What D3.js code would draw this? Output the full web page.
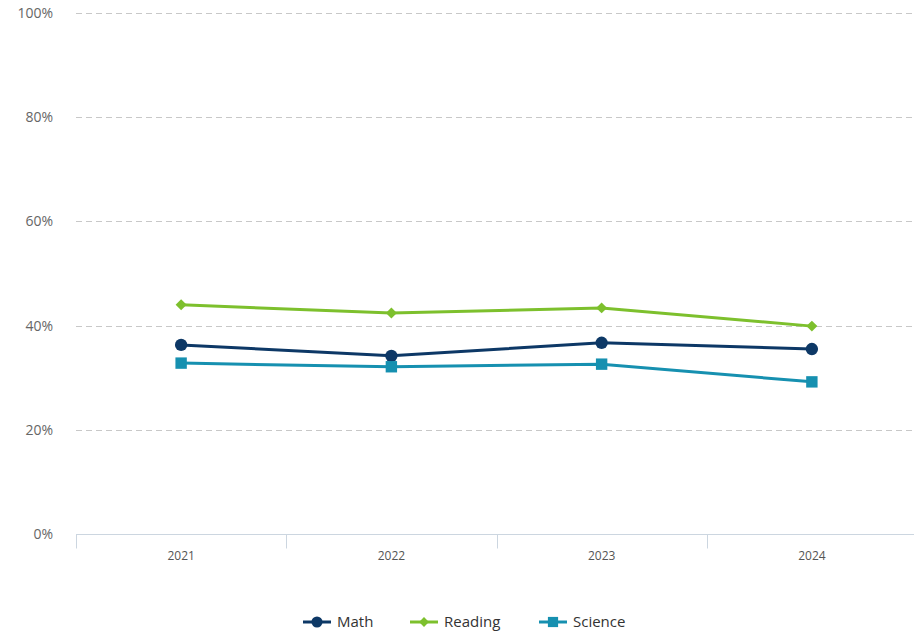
<!DOCTYPE html>
<html>
<head>
<meta charset="utf-8">
<script src="https://cdn.jsdelivr.net/npm/d3@7"></script>
<style>
  body { margin: 0; background: #fff; }
  svg { display: block; font-family: "Open Sans", "DejaVu Sans", sans-serif; }
</style>
</head>
<body>
<div id="chart"></div>
<script>
const years = ['2021', '2022', '2023', '2024']
const math = [36.3, 34.2, 36.7, 35.5]
const reading = [44.0, 42.4, 43.4, 39.9]
const science = [32.8, 32.1, 32.6, 29.2]
const yTicks = [0, 20, 40, 60, 80, 100]

const series = [
  { name: 'Math', values: math, color: '#0d3866', symbol: d3.symbolCircle, size: 120, rotate: 0 },
  { name: 'Reading', values: reading, color: '#7dc02d', symbol: d3.symbolSquare, size: 60, rotate: 45 },
  { name: 'Science', values: science, color: '#1690b0', symbol: d3.symbolSquare, size: 130, rotate: 0 },
]

const totalWidth = 914
const totalHeight = 634
const marginLeft = 76
const marginTop = 13
const plotHeight = 521
const plotWidth = 841

const svg = d3.select('#chart')
  .append('svg')
  .attr('width', totalWidth)
  .attr('height', totalHeight)

const x = d3.scaleBand()
  .domain(years)
  .range([marginLeft, marginLeft + plotWidth])

const y = d3.scaleLinear()
  .domain([0, 100])
  .range([marginTop + plotHeight, marginTop])

// grid
svg.append('g')
  .selectAll('line')
  .data(yTicks.filter(d => d > 0))
  .join('line')
  .attr('x1', marginLeft)
  .attr('x2', totalWidth)
  .attr('y1', d => Math.round(y(d)) + 0.5)
  .attr('y2', d => Math.round(y(d)) + 0.5)
  .attr('stroke', '#c8c8c8')
  .attr('stroke-dasharray', '6,4')

// y labels
svg.append('g')
  .selectAll('text')
  .data(yTicks)
  .join('text')
  .attr('x', 53)
  .attr('y', d => y(d) + 5)
  .attr('text-anchor', 'end')
  .attr('fill', '#666')
  .style('font-size', '14px')
  .text(d => d + '%')

// x axis
const xAxis = svg.append('g')
  .attr('transform', `translate(0,${Math.round(y(0)) + 0.5})`)
  .call(
    d3.axisBottom(x)
      .tickSize(0)
      .tickPadding(17)
  )

xAxis.select('.domain')
  .attr('stroke', '#ccd6e0')
  .attr('d', `M${marginLeft},0H${totalWidth}`)

xAxis.selectAll('.tick text')
  .attr('fill', '#555')
  .style('font-size', '12px')
  .style('font-family', '"Open Sans", "DejaVu Sans", sans-serif')

xAxis.append('g')
  .selectAll('line')
  .data(years)
  .join('line')
  .attr('x1', d => Math.round(x(d)) + 0.5)
  .attr('x2', d => Math.round(x(d)) + 0.5)
  .attr('y1', 0)
  .attr('y2', 14)
  .attr('stroke', '#ccd6e0')

// lines
const line = d3.line()
  .x((d, i) => x(years[i]) + x.bandwidth() / 2)
  .y(d => y(d))

const groups = svg.append('g')
  .selectAll('g')
  .data(series)
  .join('g')

groups.append('path')
  .attr('d', d => line(d.values))
  .attr('fill', 'none')
  .attr('stroke', d => d.color)
  .attr('stroke-width', 3)

groups.each(function (s) {
  d3.select(this)
    .selectAll('path.pt')
    .data(s.values)
    .join('path')
    .attr('class', 'pt')
    .attr('d', d3.symbol().type(s.symbol).size(s.size))
    .attr('transform', (d, i) => `translate(${x(years[i]) + x.bandwidth() / 2},${y(d)}) rotate(${s.rotate})`)
    .attr('fill', s.color)
})

// legend
const legendX = [303, 410, 539]
const legend = svg.append('g')
  .selectAll('g')
  .data(series)
  .join('g')
  .attr('transform', (d, i) => `translate(${legendX[i]},622)`)

legend.append('line')
  .attr('x1', 0)
  .attr('x2', 28)
  .attr('stroke', d => d.color)
  .attr('stroke-width', 3)

legend.append('path')
  .attr('d', d => d3.symbol().type(d.symbol).size(d.size * 0.8)())
  .attr('transform', d => `translate(14,0) rotate(${d.rotate})`)
  .attr('fill', d => d.color)

legend.append('text')
  .attr('x', 34)
  .attr('y', 5)
  .attr('fill', '#333')
  .style('font-size', '15px')
  .text(d => d.name)
</script>
</body>
</html>
